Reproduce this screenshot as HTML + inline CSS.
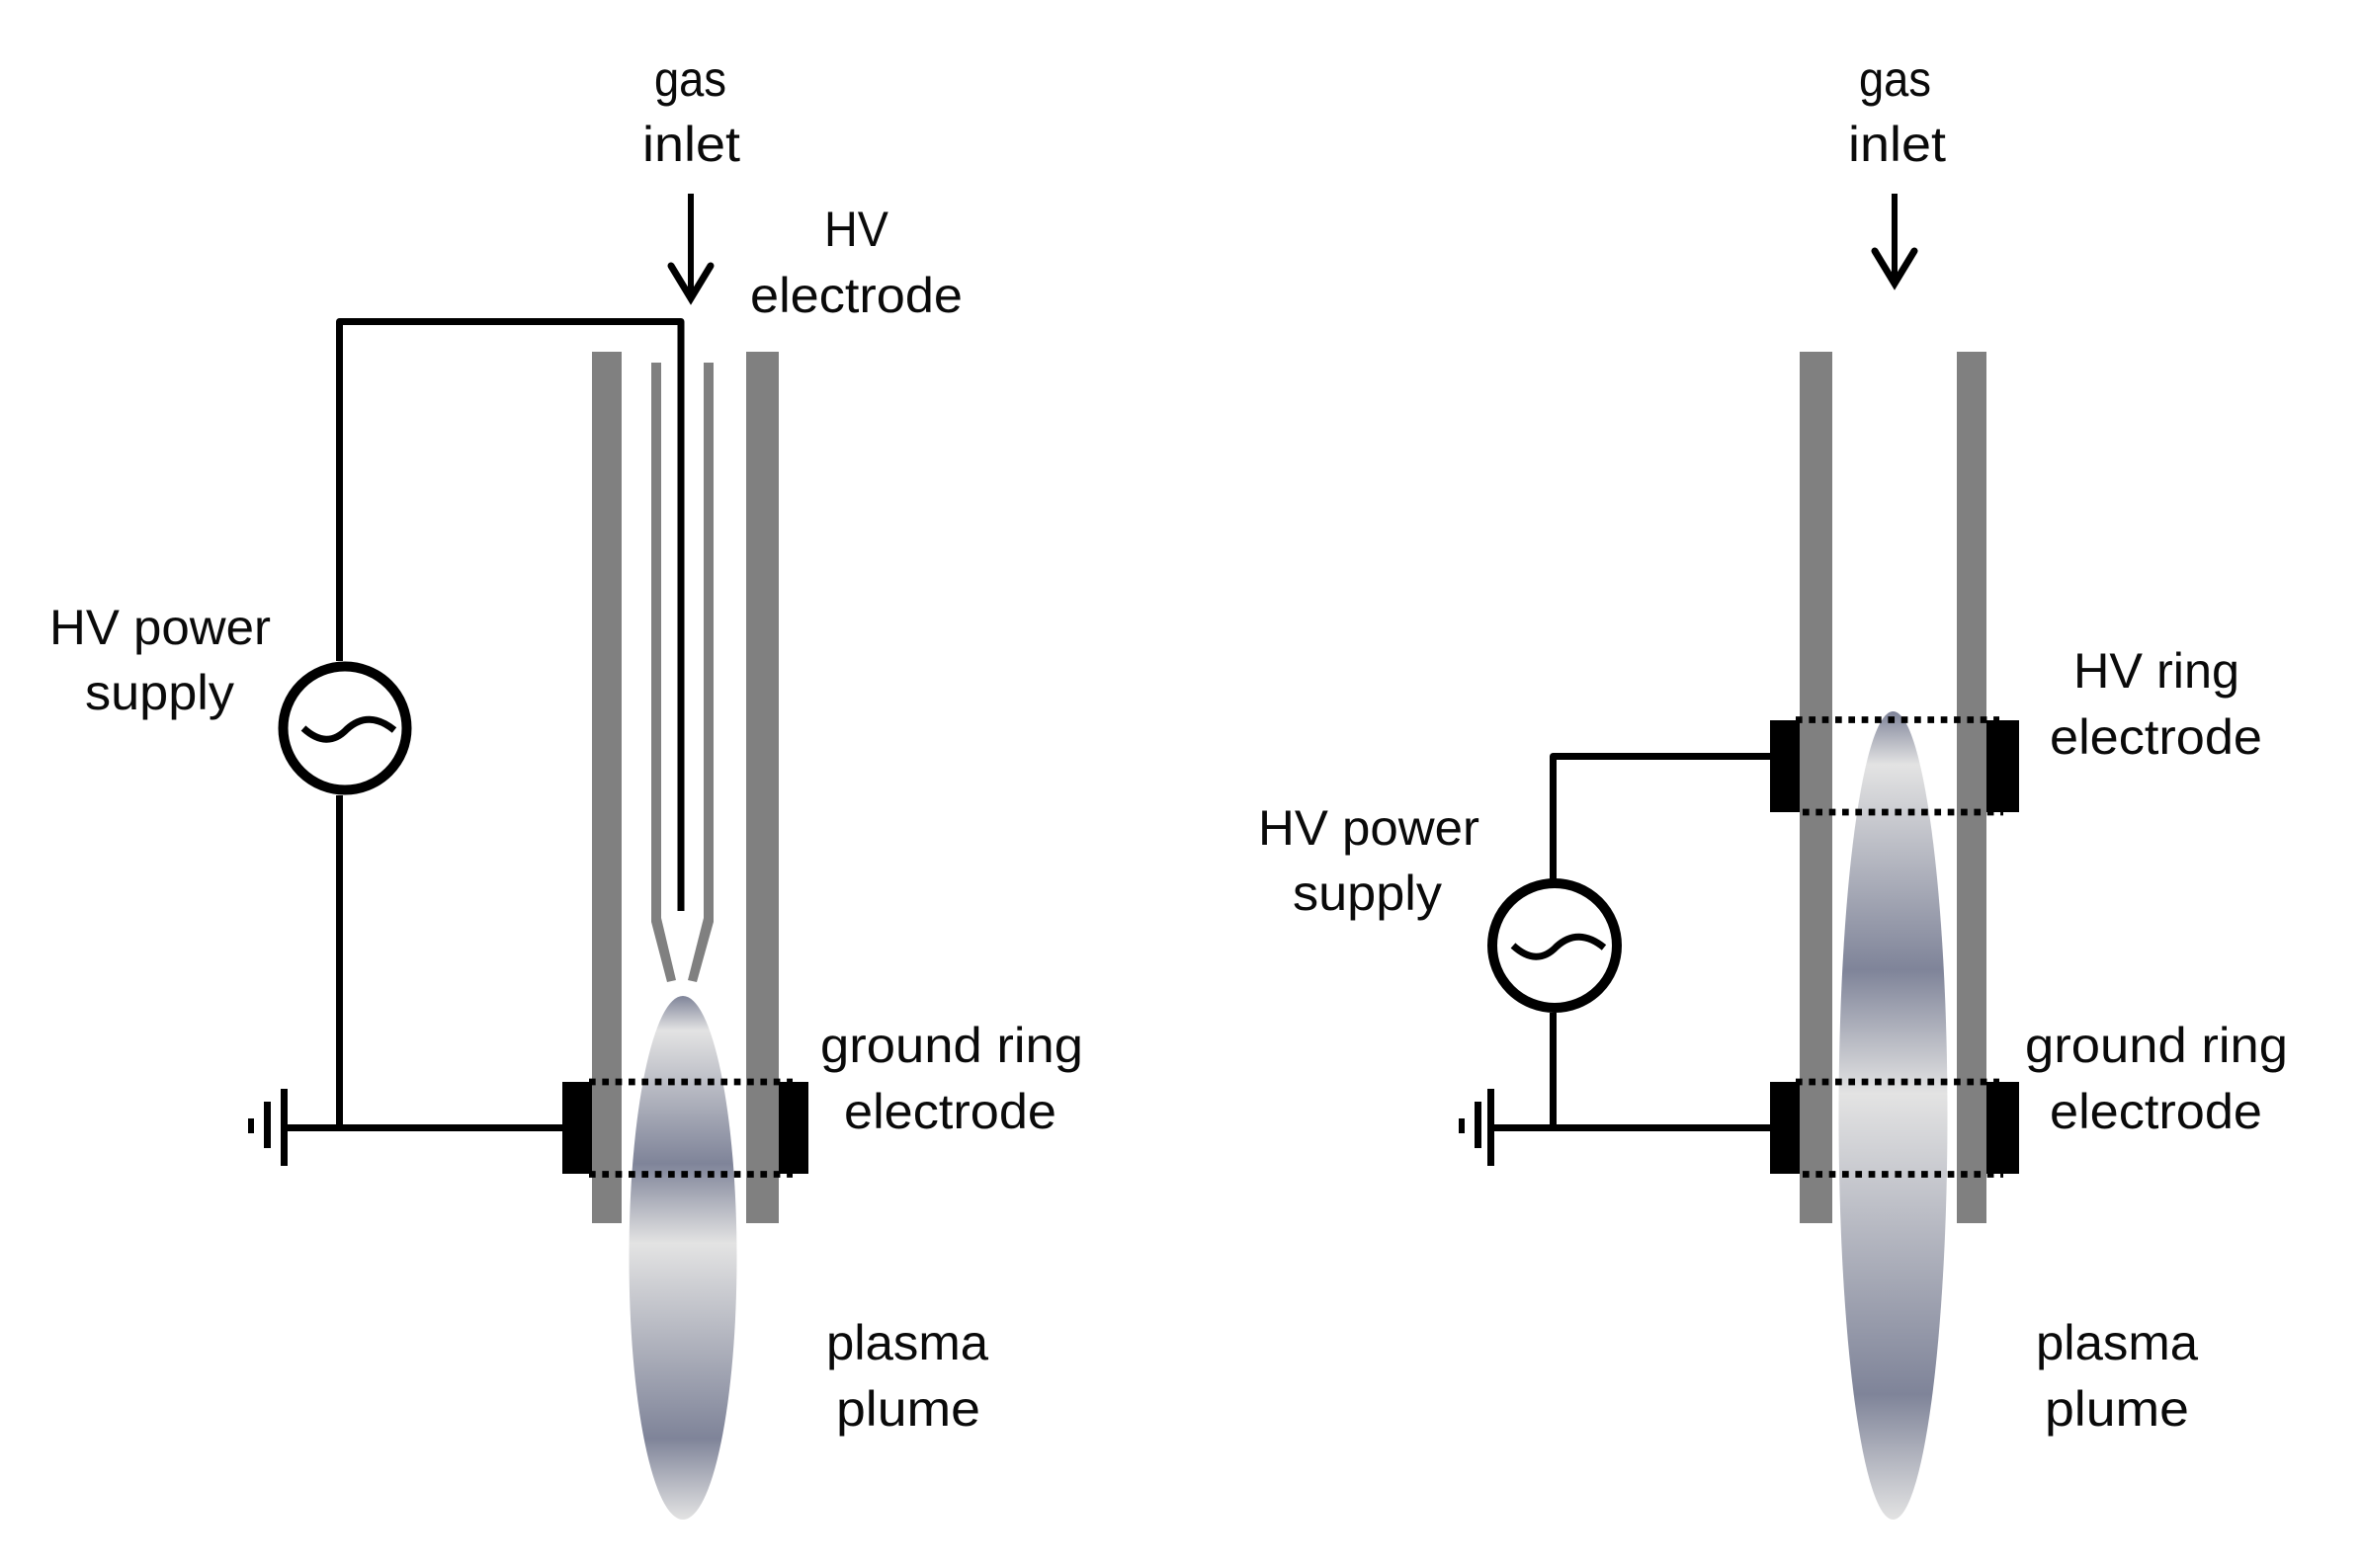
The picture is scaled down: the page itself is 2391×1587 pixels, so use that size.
<!DOCTYPE html>
<html>
<head>
<meta charset="utf-8">
<style>
html,body{margin:0;padding:0;background:#fff}
svg{display:block}
text{font-family:"Liberation Sans",sans-serif;font-size:50px;fill:#0a0a0a}
</style>
</head>
<body>
<svg width="2391" height="1587" viewBox="0 0 2391 1587" xmlns="http://www.w3.org/2000/svg">
<defs>
<linearGradient id="g" x1="0" y1="0" x2="0" y2="1">
<stop offset="0" stop-color="#7f8499"/>
<stop offset="0.066" stop-color="#e3e3e3"/>
<stop offset="0.32" stop-color="#7f8499"/>
<stop offset="0.473" stop-color="#e3e3e3"/>
<stop offset="0.845" stop-color="#7f8499"/>
<stop offset="1" stop-color="#e3e3e3"/>
</linearGradient>
</defs>
<rect width="2391" height="1587" fill="#fff"/>

<!-- LEFT -->
<rect x="599" y="356" width="30" height="882" fill="#808080"/>
<rect x="755" y="356" width="33" height="882" fill="#808080"/>
<rect x="659" y="367" width="10" height="566" fill="#808080"/>
<rect x="712" y="367" width="10" height="566" fill="#808080"/>
<polygon points="659,933 669,929 684,992 675,994" fill="#808080"/>
<polygon points="712,929 722,933 705,994 696,992" fill="#808080"/>
<rect x="569" y="1095" width="30" height="93" fill="#000"/>
<rect x="788" y="1095" width="30" height="93" fill="#000"/>
<ellipse cx="691" cy="1273" rx="54.5" ry="265" fill="url(#g)"/>
<path d="M343.5 669V325.5H689V922" fill="none" stroke="#000" stroke-width="7" stroke-linejoin="round"/>
<path d="M343.5 805V1141" fill="none" stroke="#000" stroke-width="7"/>
<path d="M288 1141.500H569" fill="none" stroke="#000" stroke-width="7"/>
<rect x="284" y="1102" width="7" height="78" fill="#000"/>
<rect x="267" y="1115" width="7" height="47" fill="#000"/>
<rect x="251" y="1132" width="6" height="15" fill="#000"/>
<circle cx="349" cy="737" r="62.500" fill="#fff" stroke="#000" stroke-width="10"/>
<path d="M307 737Q331 759 351 738Q373 718 399 739" fill="none" stroke="#000" stroke-width="7"/>
<path d="M699 196V300" stroke="#000" stroke-width="6" fill="none"/>
<path d="M679 269L699 302L719 269" stroke="#000" stroke-width="7" fill="none" stroke-linecap="round" stroke-linejoin="miter"/>
<path d="M596 1095H802M596 1188.500H802" stroke="#000" stroke-width="6.700" stroke-dasharray="6.670 6.670" fill="none"/>

<!-- RIGHT -->
<rect x="1821" y="356" width="33" height="882" fill="#808080"/>
<rect x="1980" y="356" width="30" height="882" fill="#808080"/>
<rect x="1791" y="729" width="30" height="93" fill="#000"/>
<rect x="2010" y="729" width="33" height="93" fill="#000"/>
<rect x="1791" y="1095" width="30" height="93" fill="#000"/>
<rect x="2010" y="1095" width="33" height="93" fill="#000"/>
<ellipse cx="1915.500" cy="1129" rx="55" ry="409" fill="url(#g)"/>
<path d="M1791 765.500H1571.500V890" fill="none" stroke="#000" stroke-width="7" stroke-linejoin="round"/>
<path d="M1571.500 1025V1141" fill="none" stroke="#000" stroke-width="7"/>
<path d="M1510 1141.500H1791" fill="none" stroke="#000" stroke-width="7"/>
<rect x="1505" y="1102" width="7" height="78" fill="#000"/>
<rect x="1492" y="1115" width="7" height="47" fill="#000"/>
<rect x="1476" y="1132" width="6" height="15" fill="#000"/>
<circle cx="1573" cy="957" r="63" fill="#fff" stroke="#000" stroke-width="10"/>
<path d="M1531 957Q1555 979 1575 958Q1597 938 1623 959" fill="none" stroke="#000" stroke-width="7"/>
<path d="M1917 196V285" stroke="#000" stroke-width="6" fill="none"/>
<path d="M1897 254L1917 287L1937 254" stroke="#000" stroke-width="7" fill="none" stroke-linecap="round" stroke-linejoin="miter"/>
<path d="M1817 728.500H2023M1817 1095H2023" stroke="#000" stroke-width="6.700" stroke-dasharray="6.670 6.670" fill="none"/>
<path d="M1824 822H2027M1824 1188.500H2027" stroke="#000" stroke-width="6.700" stroke-dasharray="6.670 6.670" fill="none"/>

<!-- LABELS LEFT -->
<text x="662" y="97" textLength="73" lengthAdjust="spacingAndGlyphs">gas</text>
<text x="650" y="163" textLength="99" lengthAdjust="spacingAndGlyphs">inlet</text>
<text x="834" y="249" textLength="65" lengthAdjust="spacingAndGlyphs">HV</text>
<text x="759" y="316" textLength="215" lengthAdjust="spacingAndGlyphs">electrode</text>
<text x="50" y="652" textLength="224" lengthAdjust="spacingAndGlyphs">HV power</text>
<text x="86" y="718" textLength="151" lengthAdjust="spacingAndGlyphs">supply</text>
<text x="830" y="1075" textLength="266" lengthAdjust="spacingAndGlyphs">ground ring</text>
<text x="854" y="1142" textLength="215" lengthAdjust="spacingAndGlyphs">electrode</text>
<text x="836" y="1376" textLength="164" lengthAdjust="spacingAndGlyphs">plasma</text>
<text x="846" y="1443" textLength="146" lengthAdjust="spacingAndGlyphs">plume</text>

<!-- LABELS RIGHT -->
<text x="1881" y="97" textLength="73" lengthAdjust="spacingAndGlyphs">gas</text>
<text x="1870" y="163" textLength="99" lengthAdjust="spacingAndGlyphs">inlet</text>
<text x="2098" y="696" textLength="168" lengthAdjust="spacingAndGlyphs">HV ring</text>
<text x="2074" y="763" textLength="215" lengthAdjust="spacingAndGlyphs">electrode</text>
<text x="1273" y="855" textLength="224" lengthAdjust="spacingAndGlyphs">HV power</text>
<text x="1308" y="921" textLength="151" lengthAdjust="spacingAndGlyphs">supply</text>
<text x="2049" y="1075" textLength="266" lengthAdjust="spacingAndGlyphs">ground ring</text>
<text x="2074" y="1142" textLength="215" lengthAdjust="spacingAndGlyphs">electrode</text>
<text x="2060" y="1376" textLength="164" lengthAdjust="spacingAndGlyphs">plasma</text>
<text x="2069" y="1443" textLength="146" lengthAdjust="spacingAndGlyphs">plume</text>
</svg>
</body>
</html>
